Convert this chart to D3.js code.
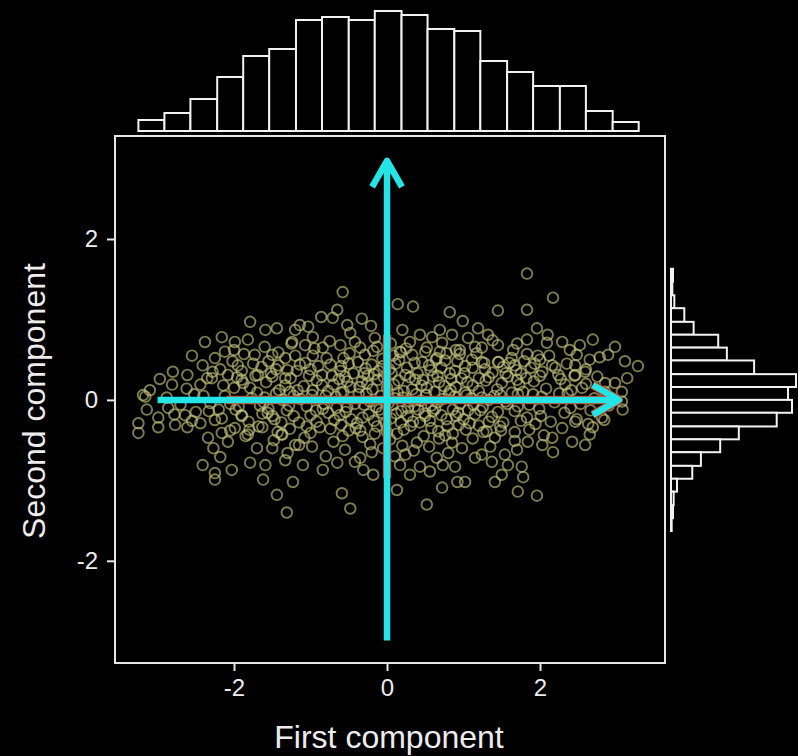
<!DOCTYPE html>
<html>
<head>
<meta charset="utf-8">
<script src="https://cdnjs.cloudflare.com/ajax/libs/d3/7.8.5/d3.min.js"></script>
<style>
  body { margin: 0; background: #000; }
  text { font-family: "Liberation Sans", Arial, Helvetica, sans-serif; fill: #ececec; }
</style>
</head>
<body>
<svg id="chart"></svg>
<script>
// x / y tick values of the main panel
var xTicks = [-2, 0, 2];
var yTicks = [-2, 0, 2];

// top marginal histogram (first component)
var topEdges = [-3.25,-2.91,-2.57,-2.22,-1.88,-1.54,-1.19,-0.85,-0.5,-0.16,0.19,0.53,0.88,1.22,1.57,1.91,2.26,2.6,2.95,3.29];
var topCounts = [11,18,32,54,75,82,111,114,111,120,116,102,100,70,59,45,45,20,9];

// right marginal histogram (second component), listed top to bottom
var rightEdges = [1.63,1.47,1.3,1.14,0.97,0.81,0.65,0.49,0.32,0.16,0,-0.16,-0.33,-0.49,-0.65,-0.82,-0.98,-1.14,-1.31,-1.47,-1.63];
var rightCounts = [3,2,5,20,34,71,84,125,188,176,182,159,102,74,45,32,9,4,3,1];

// principal directions drawn as arrows
var arrowH = [[-3.0, 0], [3.03, 0]];
var arrowV = [[0, -2.99], [0, 2.97]];
var redH = [[-2.1, 0], [3.03, 0]];
var redV = [[0, -0.97], [0, 0.81]];

// scores (first, second component)
var scores = [
  // upper left
  [-1.79,0.97],[-1.44,0.89],[-1.59,0.87],[-1.2,0.87],[-2.16,0.78],[-2.38,0.72],[-2.55,0.55],[-2.41,0.43],
  [-2.8,0.35],[-2.97,0.26],[-3.1,0.12],[-3.19,0.06],[-2.44,0.19],[-2.61,0.31],[-2.81,0.19],[-1.99,0.72],
  [-1.82,0.75],[-2.12,0.6],[-2.25,0.52],[-1.95,0.43],[-1.73,0.56],[-1.5,0.56],[-1.42,0.43],[-1.24,0.72],
  [-1.69,0.31],[-1.9,0.25],[-1.33,0.27],[-2.08,0.31],[-2.29,0.27],
  // upper middle
  [-0.58,1.34],[0.14,1.19],[0.34,1.16],[-0.65,1.12],[-0.86,1.03],[-0.71,1.02],[-0.33,1.01],[-0.21,0.92],
  [-0.52,0.93],[0.82,1.09],[0.99,0.98],[0.69,0.87],[0.2,0.87],[-1.03,0.91],[-1.14,0.93],[-0.97,0.78],
  [-0.48,0.83],[-0.16,0.77],[0.43,0.81],[0.59,0.78],[0.85,0.81],[1.06,0.77],[0.3,0.72],[-1.07,0.68],
  [-0.84,0.65],[-0.61,0.68],[-0.35,0.65],[-0.13,0.66],[0.17,0.6],[0.52,0.65],[0.69,0.6],[0.95,0.62],[0.65,0.52],
  // upper right
  [1.83,1.57],[2.17,1.27],[1.45,1.11],[1.83,1.12],[1.96,0.89],[1.19,0.89],[2.1,0.81],[1.32,0.81],
  [1.83,0.75],[1.45,0.68],[1.65,0.62],[2.09,0.71],[2.29,0.72],[2.69,0.75],[2.52,0.68],[2.39,0.62],
  [2.98,0.66],[1.83,0.57],[1.97,0.55],[2.89,0.56],[2.78,0.53],[3.11,0.48],[3.28,0.42],[2.48,0.56],
  [2.65,0.5],[2.46,0.43],[3.14,0.27],[2.98,0.21],[3.07,0.1],[2.16,0.43],[2.24,0.31],[2.46,0.31],
  [2.59,0.35],[2.85,0.21],[1.24,0.65],[1.24,0.47],[1.45,0.47],[1.67,0.43],[2.03,0.35],[2.33,0.19],[2.55,0.15],
  // lower left
  [-3.16,0.04],[-3.14,-0.12],[-3.25,-0.29],[-3.25,-0.41],[-2.99,-0.22],[-2.99,-0.34],[-2.86,-0.1],[-2.77,-0.31],
  [-2.61,-0.34],[-2.64,-0.19],[-2.44,-0.29],[-2.41,-0.81],[-2.25,-0.91],[-2.25,-0.99],[-2.03,-0.87],[-2.34,-0.47],
  [-2.27,-0.6],[-2.18,-0.71],[-2.08,-0.52],[-1.79,-0.78],[-1.59,-0.81],[-1.62,-0.99],[-1.44,-1.18],[-1.23,-1.02],
  [-1.31,-1.4],[-1.33,-0.75],[-1.5,-0.6],[-1.82,-0.43],[-1.99,-0.35],[-2.25,-0.25],[-2.16,-0.41],[-1.63,-0.34],
  [-1.37,-0.43],[-1.2,-0.56],[-1.9,-0.19],[-1.56,-0.16],
  // lower middle
  [-0.59,-1.16],[-0.48,-1.35],[0.13,-1.12],[0.52,-1.3],[0.72,-1.09],[0.92,-1.02],[1.02,-1.02],[0.3,-0.93],
  [-0.18,-0.93],[-0.31,-0.87],[-0.84,-0.87],[-1.1,-0.81],[-0.65,-0.78],[-0.42,-0.77],[0.24,-0.68],[0.17,-0.81],
  [0.43,-0.83],[0.73,-0.81],[0.89,-0.83],[0.65,-0.72],[0.56,-0.89],
  // lower right
  [1.71,-1.14],[1.96,-1.19],[1.41,-1.02],[1.5,-0.93],[1.78,-0.96],[1.76,-0.83],[1.58,-0.81],[1.37,-0.77],
  [2.17,-0.65],[2.42,-0.52],[2.59,-0.56],[2.65,-0.43],[2.69,-0.34],[2.81,-0.22],[3.08,-0.12],[3.07,-0.02],
  [2.03,-0.56],[1.84,-0.52],[1.54,-0.68],[1.24,-0.68],[2.29,-0.35],[2.46,-0.27],[2.16,-0.47],[1.67,-0.4],[1.41,-0.47],
  // core, 0.3 .. 0.8
  [-2.02,0.48],[-1.87,0.57],[-1.64,0.41],[-1.33,0.52],[-1.18,0.36],[-0.97,0.55],[-0.74,0.44],[-0.49,0.58],
  [-0.28,0.39],[-0.06,0.51],[0.11,0.45],[0.33,0.56],[0.57,0.37],[0.76,0.49],[1.02,0.42],[1.17,0.58],
  [1.38,0.34],[1.63,0.52],[1.88,0.4],[2.12,0.55],[-1.52,0.33],[-1.07,0.46],[-0.85,0.31],[-0.61,0.36],
  [-0.38,0.47],[-0.17,0.32],[0.03,0.38],[0.24,0.31],[0.46,0.47],[0.66,0.3],[0.89,0.36],[1.27,0.46],
  [1.52,0.41],[1.75,0.33],[-2.18,0.38],[-1.75,0.45],[-1.42,0.59],[-0.57,0.52],[0.18,0.59],[0.95,0.57],
  [-1.6,0.66],[-1.25,0.7],[-0.95,0.64],[-0.42,0.72],[-0.18,0.61],[0.05,0.7],[0.25,0.64],[0.72,0.71],
  [1.15,0.66],[1.38,0.74],[1.7,0.7],[-0.75,0.73],[0.5,0.6],[-2.0,0.62],[0.9,0.62],
  // core, 0.1 .. 0.3
  [-2.62,0.14],[-2.35,0.27],[-2.14,0.18],[-1.96,0.28],[-1.79,0.15],[-1.58,0.22],[-1.41,0.12],[-1.26,0.27],
  [-1.09,0.17],[-0.92,0.24],[-0.77,0.11],[-0.63,0.26],[-0.48,0.16],[-0.33,0.23],[-0.19,0.13],[-0.04,0.28],
  [0.09,0.19],[0.22,0.11],[0.37,0.25],[0.52,0.15],[0.68,0.22],[0.83,0.12],[0.97,0.27],[1.12,0.18],
  [1.29,0.24],[1.44,0.13],[1.58,0.29],[1.73,0.19],[1.92,0.23],[2.08,0.14],[2.27,0.26],[2.41,0.12],
  [2.6,0.2],[2.75,0.29],[-1.88,0.21],[-1.5,0.29],[-1.17,0.12],[-0.85,0.18],[-0.55,0.29],[-0.26,0.2],
  [0.0,0.15],[0.3,0.28],[0.6,0.29],[0.9,0.16],[1.2,0.11],[1.5,0.21],[1.82,0.27],[-0.7,0.19],
  [0.45,0.18],[-1.33,0.18],[0.75,0.17],[1.05,0.22],[-0.12,0.25],[0.15,0.24],
  // core, -0.1 .. 0.1
  [-2.88,0.03],[-2.7,-0.06],[-2.52,0.07],[-2.31,-0.04],[-2.12,0.05],[-1.94,-0.08],[-1.77,0.02],[-1.61,-0.03],
  [-1.45,0.08],[-1.28,-0.07],[-1.13,0.01],[-0.98,0.06],[-0.82,-0.05],[-0.67,0.04],[-0.52,-0.09],[-0.37,0.07],
  [-0.22,-0.02],[-0.08,0.05],[0.07,-0.06],[0.21,0.03],[0.36,-0.08],[0.51,0.06],[0.66,-0.03],[0.81,0.08],
  [0.95,-0.05],[1.1,0.02],[1.25,-0.09],[1.4,0.05],[1.55,-0.02],[1.71,0.07],[1.86,-0.06],[2.02,0.04],
  [2.19,-0.03],[2.36,0.08],[2.53,-0.05],[2.71,0.02],[2.9,-0.07],[-1.05,-0.08],[-0.6,0.09],[-0.3,-0.06],
  [0.14,0.09],[0.44,-0.01],[0.73,0.01],[1.02,0.09],[1.33,0.0],[1.63,0.09],[-1.37,0.0],[-1.7,0.09],
  [-0.14,-0.09],[0.29,-0.02],[0.58,-0.07],[0.88,0.04],
  // core, -0.3 .. -0.1
  [-2.78,-0.18],[-2.55,-0.26],[-2.33,-0.14],[-2.16,-0.23],[-1.98,-0.12],[-1.81,-0.27],[-1.63,-0.17],[-1.47,-0.24],
  [-1.31,-0.13],[-1.15,-0.28],[-1.0,-0.19],[-0.84,-0.11],[-0.69,-0.25],[-0.54,-0.15],[-0.39,-0.29],[-0.24,-0.18],
  [-0.1,-0.12],[0.05,-0.23],[0.19,-0.14],[0.34,-0.27],[0.49,-0.17],[0.63,-0.11],[0.78,-0.24],[0.93,-0.16],
  [1.08,-0.29],[1.22,-0.13],[1.37,-0.21],[1.52,-0.28],[1.67,-0.14],[1.83,-0.22],[1.99,-0.11],[2.14,-0.27],
  [2.32,-0.16],[2.48,-0.24],[2.66,-0.13],[2.84,-0.25],[-1.9,-0.2],[-1.55,-0.11],[-1.22,-0.2],[-0.92,-0.27],
  [-0.62,-0.19],[-0.32,-0.22],[-0.02,-0.29],[0.27,-0.2],[0.56,-0.26],[0.86,-0.12],[1.15,-0.18],[1.45,-0.15],
  [1.75,-0.26],[-0.77,-0.16],[0.12,-0.17],[0.41,-0.12],[0.71,-0.19],[1.0,-0.24],[-0.47,-0.24],[-0.17,-0.26],
  // core, -0.75 .. -0.3
  [-2.05,-0.38],[-1.85,-0.45],[-1.68,-0.33],[-1.48,-0.5],[-1.27,-0.36],[-1.08,-0.47],[-0.88,-0.34],[-0.7,-0.52],
  [-0.5,-0.38],[-0.32,-0.46],[-0.13,-0.33],[0.04,-0.49],[0.22,-0.37],[0.39,-0.53],[0.58,-0.35],[0.76,-0.44],
  [0.94,-0.31],[1.12,-0.48],[1.3,-0.39],[1.48,-0.33],[1.67,-0.51],[1.86,-0.37],[2.05,-0.44],[-1.0,-0.41],
  [-0.6,-0.31],[-0.22,-0.55],[0.13,-0.42],[0.48,-0.45],[0.85,-0.53],[1.2,-0.32],[-1.38,-0.43],[0.67,-0.39],
  [0.31,-0.32],[-0.41,-0.35],[1.03,-0.37],
  [-1.7,-0.6],[-1.3,-0.66],[-0.98,-0.58],[-0.8,-0.7],[-0.55,-0.62],[-0.35,-0.72],[-0.05,-0.6],[0.1,-0.7],
  [0.35,-0.63],[0.55,-0.58],[0.8,-0.66],[0.98,-0.6],[1.15,-0.72],[1.35,-0.58],[-1.15,-0.56],[0.2,-0.57],
  [-0.2,-0.65],[1.7,-0.62],
  // denser core
  [-1.45,0.38],[-1.22,0.05],[-0.9,0.42],[-0.66,-0.1],[-0.44,0.33],[-0.2,0.44],[0.02,-0.04],[0.26,0.4],
  [0.5,-0.2],[0.71,0.4],[0.92,0.48],[1.13,-0.06],[1.33,0.28],[1.57,-0.05],[1.79,0.48],[2.0,0.3],
  [-1.02,0.3],[-0.79,0.52],[-0.57,0.1],[-0.35,-0.38],[-0.11,0.36],[0.1,0.02],[0.33,0.13],[0.55,0.43],
  [0.79,-0.33],[1.01,0.33],[1.24,0.03],[1.46,0.47],[1.69,0.37],[1.91,0.07],
  [-1.6,0.03],[-1.38,-0.28],[-1.14,0.44],[-0.93,-0.13],[-0.72,0.3],[-0.5,0.45],[-0.27,0.08],[-0.05,0.42],
  [0.18,-0.28],[0.4,0.33],[0.62,0.1],[0.84,0.26],[1.06,-0.13],[1.28,0.38],[1.49,-0.38],[1.71,-0.08],
  [1.94,-0.3],[2.2,0.4],[2.4,-0.1],[2.6,0.38],
  [-2.4,0.05],[-2.2,-0.12],[-2.0,0.15],[-1.8,-0.37],[-1.55,0.48],[-1.3,0.37],[-1.05,-0.33],[-0.8,0.05],
  [-0.58,-0.45],[-0.36,0.16],[-0.16,-0.42],[0.06,0.33],[0.27,-0.1],[0.47,0.25],[0.68,-0.48],[0.9,-0.2],
  [1.11,0.5],[1.33,-0.27],[1.55,0.33],[1.78,0.1],[2.01,-0.2],[2.25,0.08],[2.45,0.3],[2.63,-0.3],[2.85,0.1],
  [-1.9,0.36],[-1.66,-0.07],[-1.43,-0.4],[-1.2,0.55],[-0.97,0.12],[-0.74,-0.36],[-0.52,0.23],[-0.29,0.56],
  [-0.07,-0.16],[0.16,0.5],[0.38,0.07],[0.6,-0.14],[0.82,0.33],[1.04,0.06],[1.26,-0.4],[1.48,0.06],
  [1.7,0.25],[1.93,0.45],[-0.42,-0.05],[0.0,-0.4],[0.43,-0.28],[0.86,-0.42],[1.2,0.27],[-0.25,0.3],[0.64,0.5],
  [-2.5,-0.15],[-2.28,0.35],[-2.05,-0.05],[-1.72,0.3],[-1.5,-0.2],[-1.27,0.1],[-1.0,0.38],[-0.6,0.42],
  [-0.3,0.33],[0.08,0.55],[0.36,0.46],[0.78,0.58],[1.12,0.4],[1.6,0.46],[2.0,0.5],[2.35,0.45]
];

var width = 798;
var height = 756;

var svg = d3.select("#chart")
    .attr("width", width)
    .attr("height", height);

var x = d3.scaleLinear()
    .domain([-3.556, 3.634])
    .range([115, 665]);

var y = d3.scaleLinear()
    .domain([-3.27, 3.28])
    .range([663, 136]);

// top histogram
var yTop = d3.scaleLinear()
    .domain([0, 120])
    .range([131, 11]);

svg.append("g").selectAll("rect")
    .data(topCounts)
    .enter().append("rect")
    .attr("x", function(d, i) { return x(topEdges[i]); })
    .attr("width", function(d, i) { return x(topEdges[i + 1]) - x(topEdges[i]); })
    .attr("y", function(d) { return yTop(d); })
    .attr("height", function(d) { return yTop(0) - yTop(d); })
    .attr("fill", "#000")
    .attr("stroke", "#f2f2f2")
    .attr("stroke-width", 2);

// right histogram
var xRight = d3.scaleLinear()
    .domain([0, 188])
    .range([671, 796]);

svg.append("g").selectAll("rect")
    .data(rightCounts)
    .enter().append("rect")
    .attr("x", xRight(0))
    .attr("width", function(d) { return xRight(d) - xRight(0); })
    .attr("y", function(d, i) { return y(rightEdges[i]); })
    .attr("height", function(d, i) { return y(rightEdges[i + 1]) - y(rightEdges[i]); })
    .attr("fill", "#000")
    .attr("stroke", "#f2f2f2")
    .attr("stroke-width", 2);

// points
svg.append("g").selectAll("circle")
    .data(scores)
    .enter().append("circle")
    .attr("cx", function(d) { return x(d[0]); })
    .attr("cy", function(d) { return y(d[1]); })
    .attr("r", 5.3)
    .attr("fill", "none")
    .attr("stroke", "#c8c880")
    .attr("stroke-opacity", 0.62)
    .attr("stroke-width", 1.9);

// arrows
function drawArrow(g, pts, color, w, head) {
  var p0 = [x(pts[0][0]), y(pts[0][1])];
  var p1 = [x(pts[1][0]), y(pts[1][1])];
  g.append("line")
      .attr("x1", p0[0]).attr("y1", p0[1])
      .attr("x2", p1[0]).attr("y2", p1[1])
      .attr("stroke", color)
      .attr("stroke-width", w);
  if (head) {
    var ang = Math.atan2(p1[1] - p0[1], p1[0] - p0[0]);
    var len = 30, spread = 0.52;
    var a1 = [p1[0] - len * Math.cos(ang - spread), p1[1] - len * Math.sin(ang - spread)];
    var a2 = [p1[0] - len * Math.cos(ang + spread), p1[1] - len * Math.sin(ang + spread)];
    g.append("path")
        .attr("d", "M" + a1 + "L" + p1 + "L" + a2)
        .attr("fill", "none")
        .attr("stroke", color)
        .attr("stroke-width", w)
        .attr("stroke-linejoin", "round");
  }
}

var arrows = svg.append("g");
drawArrow(arrows, redH, "#cc3a18", 8.5, true);
drawArrow(arrows, redV, "#cc3a18", 8.5, false);
drawArrow(arrows, arrowH, "#24e4e6", 6.5, true);
drawArrow(arrows, arrowV, "#24e4e6", 6.5, true);

// frame
svg.append("rect")
    .attr("x", x.range()[0])
    .attr("y", y.range()[1])
    .attr("width", x.range()[1] - x.range()[0])
    .attr("height", y.range()[0] - y.range()[1])
    .attr("fill", "none")
    .attr("stroke", "#e6e6e6")
    .attr("stroke-width", 2);

// axes
var fmt = function(d) { return String(d); };

var xAxis = svg.append("g")
    .attr("transform", "translate(0," + y.range()[0] + ")")
    .call(d3.axisBottom(x).tickValues(xTicks).tickSize(8).tickPadding(8).tickFormat(fmt));

var yAxis = svg.append("g")
    .attr("transform", "translate(" + x.range()[0] + ",0)")
    .call(d3.axisLeft(y).tickValues(yTicks).tickSize(8).tickPadding(9).tickFormat(fmt));

[xAxis, yAxis].forEach(function(ax) {
  ax.select(".domain").remove();
  ax.selectAll(".tick line").attr("stroke", "#e6e6e6").attr("stroke-width", 2);
  ax.selectAll(".tick text")
      .attr("fill", "#ececec")
      .style("font-size", "24px")
      .style("font-family", "'Liberation Sans', Arial, sans-serif");
});

// titles
svg.append("text")
    .attr("x", 389)
    .attr("y", 748)
    .attr("text-anchor", "middle")
    .style("font-size", "32px")
    .text("First component");

svg.append("text")
    .attr("transform", "translate(45,401) rotate(-90)")
    .attr("text-anchor", "middle")
    .style("font-size", "32px")
    .text("Second component");
</script>
</body>
</html>
